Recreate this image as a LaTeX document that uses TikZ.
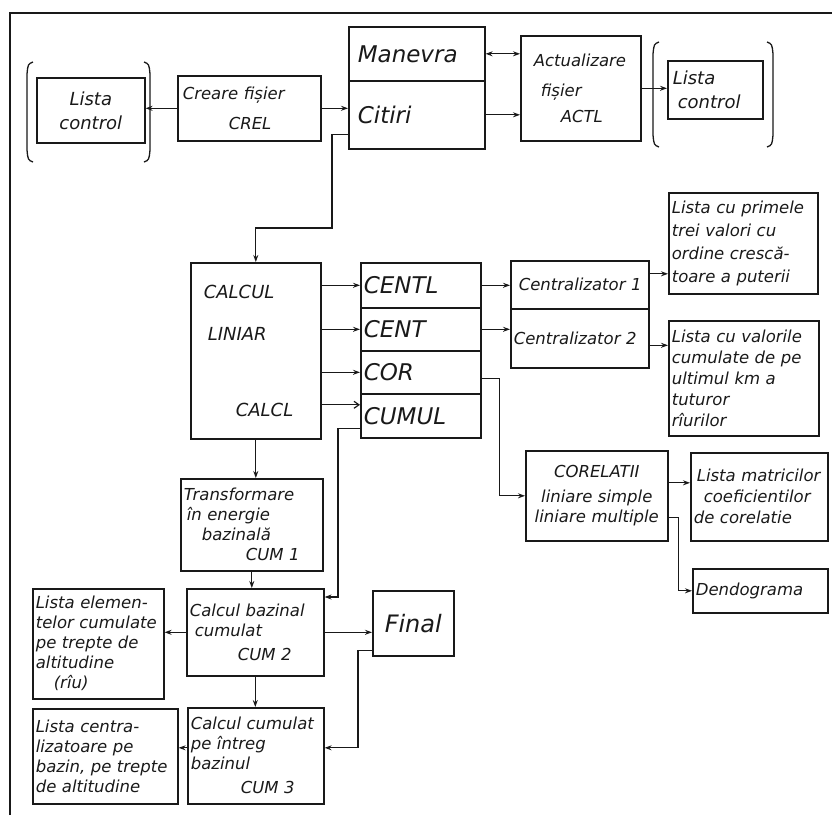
\documentclass[tikz,border=0pt]{standalone}
\usepackage{fontspec}
\setmainfont{DejaVu Sans}
\usetikzlibrary{arrows.meta, positioning, calc}
\definecolor{mainBlack}{gray}{0.1}

\tikzset{
    box/.style={draw, line width=1.6pt, mainBlack, anchor=north west, inner xsep=3pt, inner ysep=2pt, align=left, font=\fontsize{16.5}{20}\selectfont\itshape},
    big/.style={font=\fontsize{23}{26}\selectfont\itshape},
    link/.style={->, line width=1.2pt, mainBlack},
    brk/.style={line width=1.3pt, mainBlack}
}

\begin{document}
\begin{tikzpicture}[x=1pt, y=-1pt, >={Stealth[length=7pt, width=5pt]}]
    \useasboundingbox (0,0) rectangle (832,815);
    \draw[line width=1.6pt, mainBlack] (10,815) -- (10,13) -- (832,13);

    \node[box, text width=102pt, minimum height=65pt, align=center, font=\fontsize{18}{24}\selectfont\itshape] (lstL) at (36,77) {Lista\\control};
    \node[box, text width=137pt, minimum height=65pt] (crel) at (177,75) {\hspace*{2pt}Creare fișier\\[10pt]\hspace*{48pt}CREL};
    \node[box, big, text width=130pt, minimum height=54pt] (man) at (348,26) {\hspace*{6pt}Manevra};
    \node[box, big, text width=130pt, minimum height=68pt] (cit) at (348,80) {\hspace*{6pt}Citiri};
    \node[box, text width=114pt, minimum height=105pt] (actl) at (520,35) {\hspace*{10pt}Actualizare\\[10pt]\hspace*{17pt}fișier\\[6pt]\hspace*{37pt}ACTL};
    \node[box, text width=89pt, minimum height=58pt, font=\fontsize{18}{24}\selectfont\itshape] (lstR) at (667,60) {\hspace*{2pt}Lista\\\hspace*{7pt}control};
    \draw[brk] (33,62) .. controls (28,64) .. (27,74) -- (27,150) .. controls (28,160) .. (33,162);
    \draw[brk] (144,62) .. controls (149,64) .. (150,74) -- (150,150) .. controls (149,160) .. (144,162);
    \draw[brk] (659,42) .. controls (654,44) .. (653,54) -- (653,135) .. controls (654,145) .. (659,147);
    \draw[brk] (767,42) .. controls (772,44) .. (773,54) -- (773,135) .. controls (772,145) .. (767,147);

    \node[box, text width=124pt, minimum height=176pt, font=\fontsize{18}{22}\selectfont\itshape] (calc) at (190,262) {\hspace*{10pt}CALCUL\\[20pt]\hspace*{14pt}LINIAR\\[54pt]\hspace*{42pt}CALCL\\[6pt]};
    \node[box, big, text width=114pt, minimum height=45pt] (centl) at (360,262) {CENTL};
    \node[box, big, text width=114pt, minimum height=43pt] (cent) at (360,307) {CENT};
    \node[box, big, text width=114pt, minimum height=43pt] (cor) at (360,350) {COR};
    \node[box, big, text width=114pt, minimum height=44pt] (cumul) at (360,393) {CUMUL};
    \node[box, text width=132pt, minimum height=48pt] (c1) at (510,260) {\hspace*{5pt}Centralizator 1};
    \node[box, text width=132pt, minimum height=59pt] (c2) at (510,308) {Centralizator 2};
    \node[box, text width=143pt, minimum height=101pt, font=\fontsize{16.5}{23}\selectfont\itshape] (lprim) at (668,192) {Lista cu primele\\trei valori cu\\ordine crescă-\\toare a puterii};
    \node[box, text width=144pt, minimum height=115pt, font=\fontsize{16.5}{21}\selectfont\itshape] (lval) at (668,320) {Lista cu valorile\\cumulate de pe\\ultimul km a\\tuturor\\rîurilor};
    \node[box, text width=136pt, minimum height=90pt, align=center] (corel) at (525,450) {CORELATII\\[5pt]liniare simple\\liniare multiple};
    \node[box, text width=131pt, minimum height=88pt, font=\fontsize{16.5}{21}\selectfont\itshape] (lmat) at (690,452) {\hspace*{3pt}Lista matricilor\\\hspace*{10pt}coeficientilor\\de corelatie};
    \node[box, text width=129pt, minimum height=44pt] (dendo) at (692,568) {Dendograma};

    \node[box, text width=136pt, minimum height=92pt] (trans) at (180,478) {Transformare\\\hspace*{3pt}în energie\\\hspace*{18pt}bazinală\\\hspace*{62pt}CUM 1};
    \node[box, text width=131pt, minimum height=87pt] (cb) at (186,588) {Calcul bazinal\\\hspace*{5pt}cumulat\\[4pt]\hspace*{48pt}CUM 2};
    \node[box, text width=125pt, minimum height=110pt] (lel) at (32,588) {Lista elemen-\\telor cumulate\\pe trepte de\\altitudine\\\hspace*{18pt}(rîu)};
    \node[box, text width=75pt, minimum height=65pt, align=center, font=\fontsize{24}{28}\selectfont\itshape] (final) at (372,590) {Final};
    \node[box, text width=130pt, minimum height=96pt] (cc) at (187,707) {Calcul cumulat\\pe întreg\\bazinul\\[4pt]\hspace*{50pt}CUM 3};
    \node[box, text width=139pt, minimum height=95pt] (lcen) at (32,708) {Lista centra-\\lizatoare pe\\bazin, pe trepte\\de altitudine};

    \draw[link] (crel.west) -- (crel.west -| lstL.east);
    \draw[link] (crel.east) -- (crel.east -| cit.west);
    \draw[link, <->] (man.east) -- (man.east -| actl.west);
    \draw[link] (cit.east) -- (cit.east -| actl.west);
    \draw[link] (actl.east) -- (actl.east -| lstR.west);
    \draw[link] ([yshift=15pt]cit.south west) -| (332,228) -| (calc.north);

    \draw[link] (calc.east |- centl.west) -- (centl.west);
    \draw[link] (calc.east |- cent.west) -- (cent.west);
    \draw[link] (calc.east |- cor.west) -- (cor.west);
    \coordinate (a1) at ([yshift=11pt]cumul.west);
    \draw[line width=1.2pt, mainBlack, -{Straight Barb[length=5pt, width=7pt]}] (a1 -| calc.east) -- (a1);
    \draw[link] (centl.east) -- (centl.east -| c1.west);
    \draw[link] (cent.east) -- (cent.east -| c2.west);
    \draw[link] ([yshift=11pt]c1.east) coordinate (a2) -- (a2 -| lprim.west);
    \draw[link] ([yshift=-7pt]c2.east) coordinate (a3) -- (a3 -| lval.west);
    \draw[link] ([yshift=-6pt]cor.east) -- ++(18,0) |- (corel.west);
    \draw[link] ([yshift=13pt]corel.east) coordinate (a4) -- (a4 -| lmat.west);
    \draw[link] ([yshift=-22pt]corel.east) -- ++(10,0) |- (dendo.west);
    \draw[link] ([yshift=-13pt]cumul.west) -- ++(-22,0) |- ([yshift=-9pt]cb.north east);

    \draw[link] (calc.south) -- (calc.south |- trans.north);
    \draw[link] (trans.south) -- (trans.south |- cb.north);
    \draw[link] (cb.south) -- (cb.south |- cc.north);
    \draw[link] (cb.west) -- (cb.west -| lel.east);
    \draw[link] (cb.east) -- (cb.east -| final.west);
    \draw[link] ([yshift=8pt]cc.west) coordinate (a5) -- (a5 -| lcen.east);
    \draw[link] ([yshift=6pt]final.south west) -- ++(-14,0) |- ([yshift=8pt]cc.east);
\end{tikzpicture}
\end{document}
